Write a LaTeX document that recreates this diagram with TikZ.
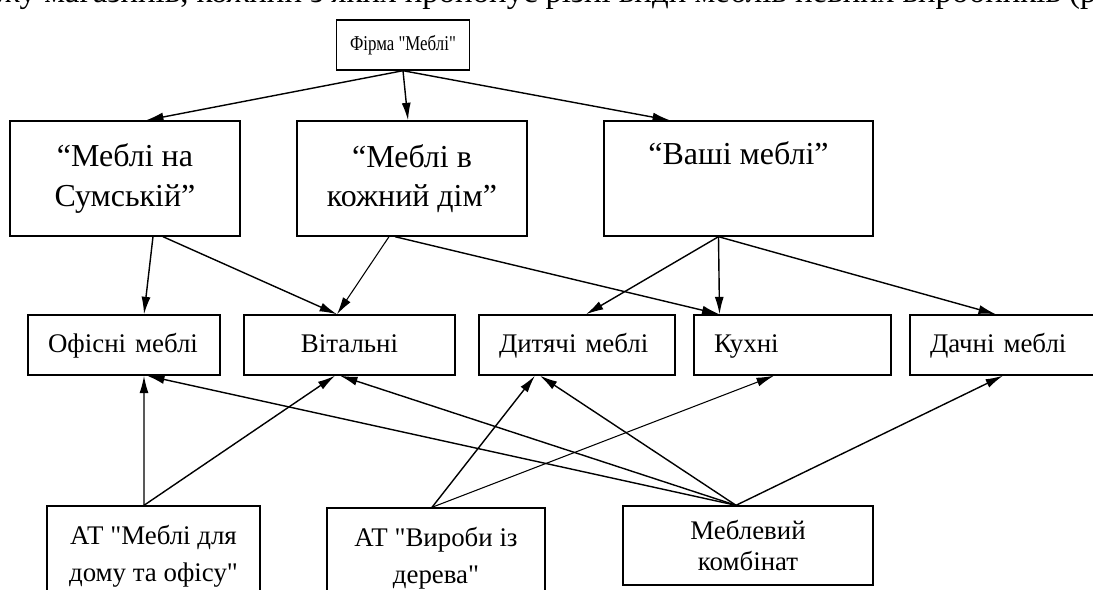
\documentclass[tikz,border=0pt]{standalone}
\usepackage{fontspec}
\setmainfont{Liberation Serif}[Ligatures=TeXOff]
\newfontfamily\narrowserif{Liberation Serif}[FakeStretch=0.8,Ligatures=TeXOff]
\usetikzlibrary{arrows.meta}

\begin{document}
\begin{tikzpicture}[x=0.02cm,y=-0.02cm,>={Latex[length=3.5mm,width=1.8mm]},
    box/.style={draw,line width=0.8pt,inner sep=0pt,align=center},
    shop/.style={box,minimum height=2.3cm,font=\fontsize{18.2}{22.5}\selectfont},
    kind/.style={draw,line width=0.8pt,minimum height=1.2cm,inner xsep=0.4cm,inner ysep=0pt,
        text height=11.5pt,text depth=3.5pt,align=left,font=\fontsize{15.3}{17}\selectfont},
    maker/.style={box,font=\fontsize{15.3}{21}\selectfont},
    link/.style={->,line width=0.8pt}]
    \useasboundingbox (0,0) rectangle (1093,589);
    \clip (0,0) rectangle (1093,589);
    % last line of the text above
    \node[anchor=base east,inner sep=0pt,font=\fontsize{18.7}{22}\selectfont] (pagetext) at (1097,2)
        {мережу магазинів, кожний з яких пропонує різні види меблів певних виробників (р};
    % firm and its shops
    \node[box,minimum width=2.66cm,minimum height=1cm,font=\narrowserif\fontsize{12}{14}\selectfont] (firma) at (403,45) {Фірма "Меблі"};
    \node[shop,minimum width=4.6cm] (sumska) at (125,178.5) {“Меблі на\\Сумській”};
    \node[shop,minimum width=4.6cm] (kozhnyi) at (412,178.5) {“Меблі в\\кожний дім”};
    \node[shop,minimum width=5.38cm] (vashi) at (738.5,178.5) {“Ваші меблі”\\\strut};
    % kinds of furniture
    \node[kind,text width=3.04cm] (ofis) at (124,345) {Офісні меблі};
    \node[kind,text width=3.42cm,align=center] (vit) at (349.5,345) {Вітальні};
    \node[kind,text width=3.12cm] (dyt) at (577,345) {Дитячі меблі};
    \node[kind,text width=3.14cm] (kukh) at (792.5,345) {Кухні};
    \node[kind,text width=3.2cm] (dach) at (1010,345) {Дачні меблі};
    % makers
    \node[maker,minimum width=4.26cm,minimum height=2cm] (domofis) at (153.5,556) {АТ "Меблі для\\дому та офісу"};
    \node[maker,minimum width=4.36cm,minimum height=2cm] (derevo) at (436,558) {АТ "Вироби із\\дерева"};
    \node[maker,minimum width=5cm,minimum height=1.58cm,font=\fontsize{15.3}{17.5}\selectfont] (kombinat) at (748,545.5) {Меблевий\\комбінат};

    \draw[link] (firma.south) -- ([xshift=0.42cm]sumska.north);
    \draw[link] (firma.south) -- ([xshift=-0.08cm]kozhnyi.north);
    \draw[link] (firma.south) -- ([xshift=-1.37cm]vashi.north);

    \draw[link] ([xshift=0.56cm]sumska.south) -- ([xshift=0.4cm]ofis.north);
    \draw[link] ([xshift=0.76cm]sumska.south) -- ([xshift=-0.25cm]vit.north);
    \draw[link,line width=0.6pt] ([xshift=-0.46cm]kozhnyi.south) -- ([xshift=-0.25cm]vit.north);
    \draw[link] ([xshift=-0.34cm]kozhnyi.south) -- ([xshift=-1.46cm]kukh.north);
    \draw[link] ([xshift=-0.4cm]vashi.south) -- ([xshift=0.18cm]dyt.north);
    \draw[link] ([xshift=-0.4cm]vashi.south) -- ([xshift=-1.46cm]kukh.north);
    \draw[link] ([xshift=-0.4cm]vashi.south) -- ([xshift=-0.28cm]dach.north);

    \draw[link] ([xshift=-0.19cm]domofis.north) -- ([xshift=0.4cm]ofis.south);
    \draw[link] ([xshift=-0.19cm]domofis.north) -- ([xshift=-0.29cm]vit.south);
    \draw[link] ([xshift=-0.08cm]derevo.north) -- ([xshift=-0.84cm]dyt.south);
    \draw[link,line width=0.6pt] ([xshift=-0.08cm]derevo.north) -- ([xshift=-0.37cm]kukh.south);
    \draw[link] ([xshift=-0.24cm]kombinat.north) -- ([xshift=0.46cm]ofis.south);
    \draw[link] ([xshift=-0.24cm]kombinat.north) -- ([xshift=-0.19cm]vit.south);
    \draw[link] ([xshift=-0.24cm]kombinat.north) -- ([xshift=-0.74cm]dyt.south);
    \draw[link] ([xshift=-0.24cm]kombinat.north) -- ([xshift=-0.14cm]dach.south);
\end{tikzpicture}
\end{document}
